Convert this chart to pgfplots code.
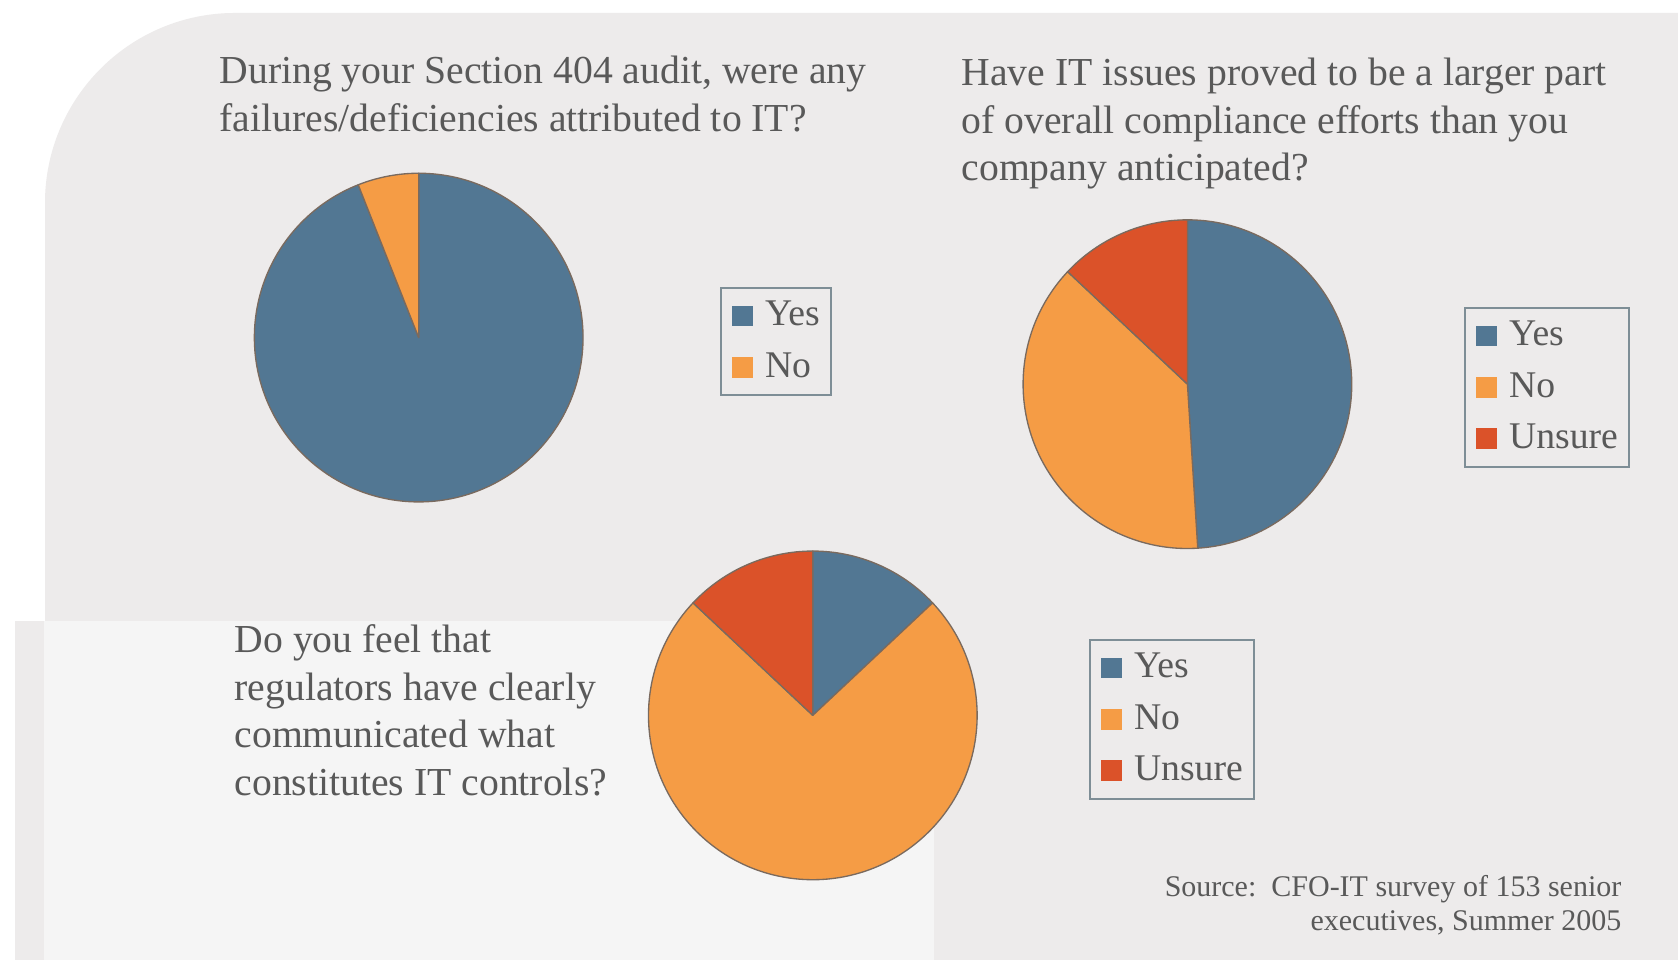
\documentclass[border=0pt]{standalone}
\usepackage{pgfplots}
\pgfplotsset{compat=1.18}
\usepackage{pgfplotstable}
\usepackage{fontspec}
\setmainfont{Liberation Serif}

\definecolor{pieblue}{HTML}{527793}
\definecolor{pieorange}{HTML}{F59C45}
\definecolor{piered}{HTML}{DB5229}
\definecolor{pieedge}{HTML}{7A6A5E}
\definecolor{panel}{HTML}{EDEBEB}
\definecolor{panellight}{HTML}{F5F5F5}
\definecolor{txt}{HTML}{595959}
\definecolor{lgdraw}{HTML}{7E8E96}

\pgfplotstableread{
label value color
Yes 94 pieblue
No 6 pieorange
}\pieA
\pgfplotstableread{
label value color
Yes 49 pieblue
No 38 pieorange
Unsure 13 piered
}\pieB
\pgfplotstableread{
label value color
Yes 13 pieblue
No 74 pieorange
Unsure 13 piered
}\pieC

\newcommand{\titlefont}{\fontsize{11.9}{14}\selectfont}
\newcommand{\legfont}{\fontsize{11.3}{14}\selectfont}

\newcommand{\drawpie}[4]{%
  \pgfplotstablegetrowsof{#1}\edef\nrows{\pgfplotsretval}%
  \def\cum{90}%
  \pgfplotsforeachungrouped \i in {1,...,\nrows}{%
    \pgfmathtruncatemacro\row{\i-1}%
    \pgfplotstablegetelem{\row}{value}\of{#1}\edef\val{\pgfplotsretval}%
    \pgfplotstablegetelem{\row}{color}\of{#1}\edef\col{\pgfplotsretval}%
    \pgfplotstablegetelem{\row}{label}\of{#1}\edef\lab{\pgfplotsretval}%
    \pgfmathsetmacro\endang{\cum-3.6*\val}%
    \edef\tmp{\noexpand\filldraw[fill=\col,draw=pieedge,line width=0.4pt,line join=round] (axis cs:#2,#3) -- ++(\cum:#4) arc[start angle=\cum,end angle=\endang,radius=#4] -- cycle;%
      \noexpand\addlegendimage{fill=\col}\noexpand\addlegendentry{\lab}}%
    \tmp
    \let\cum\endang
  }%
}

\pgfplotsset{canvas/.style={
  x=0.3pt, y=0.3pt, xmin=0, xmax=1678, ymin=0, ymax=962,
  hide axis, clip=false,
  legend cell align=left,
  legend image code/.code={\path[##1, draw=none] (0pt,-3.1pt) rectangle (6.2pt,3.1pt);},
  legend style={draw=lgdraw, line width=0.6pt, fill=none, font=\legfont, text=txt,
    inner xsep=3.4pt, inner ysep=1.9pt, row sep=2.4pt, column sep=3.6pt,
    nodes={inner xsep=0pt, inner ysep=1pt, text height=8.5pt, text depth=2.5pt}},
}}

\begin{document}
\begin{tikzpicture}
\begin{axis}[canvas, legend style={at={(0.4291,0.7017)}, anchor=north west}]
  % background
  \fill[white] (axis cs:0,0) rectangle (axis cs:1678,962);
  \fill[panel] (axis cs:1678,2) -- (axis cs:45,2) [rounded corners=57pt] -- (axis cs:45,949) [sharp corners] -- (axis cs:1678,949) -- cycle;
  \fill[panel] (axis cs:15,2) rectangle (axis cs:45,341);
  \fill[panellight] (axis cs:44,2) rectangle (axis cs:934,341);
  % titles
  \begin{scope}[every node/.style={anchor=base west, font=\titlefont, text=txt, inner sep=0pt}]
  \node at (axis cs:219,878) {During your Section 404 audit, were any};
  \node at (axis cs:219,830) {failures/deficiencies attributed to IT?};
  \node at (axis cs:961,876) {Have IT issues proved to be a larger part};
  \node at (axis cs:961,828) {of overall compliance efforts than you};
  \node at (axis cs:961,781) {company anticipated?};
  \node at (axis cs:234,309) {Do you feel that};
  \node at (axis cs:234,261) {regulators have clearly};
  \node at (axis cs:234,214) {communicated what};
  \node at (axis cs:234,166) {constitutes IT controls?};
  \end{scope}
  \node[anchor=base east, font=\fontsize{9}{10.5}\selectfont, text=txt, inner sep=0pt] at (axis cs:1622,65) {Source:\ \ CFO-IT survey of 153 senior};
  \node[anchor=base east, font=\fontsize{9}{10.5}\selectfont, text=txt, inner sep=0pt] at (axis cs:1622,31) {executives, Summer 2005};
  \drawpie{\pieA}{418.7}{624.4}{49.3pt}
\end{axis}
\begin{axis}[canvas, legend style={at={(0.8725,0.6809)}, anchor=north west}]
  \drawpie{\pieB}{1187.4}{577.8}{49.3pt}
\end{axis}
\begin{axis}[canvas, legend style={at={(0.6490,0.3358)}, anchor=north west}]
  \drawpie{\pieC}{812.8}{246.6}{49.3pt}
\end{axis}
\end{tikzpicture}
\end{document}
